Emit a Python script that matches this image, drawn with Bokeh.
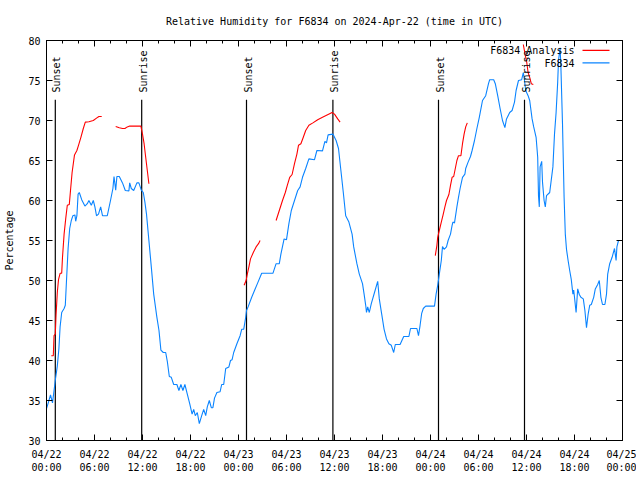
import math
from bokeh.plotting import figure
from bokeh.models import (Label, BoxAnnotation, LinearAxis, FixedTicker, Range1d)
from bokeh.embed import file_html
from bokeh.resources import INLINE

FONT = "DejaVu Sans Mono"

TITLE = "Relative Humidity for F6834 on 2024-Apr-22 (time in UTC)"

# time axis: hours since 2024-04-22 00:00 UTC
tick_hours = [0, 6, 12, 18, 24, 30, 36, 42, 48, 54, 60, 66, 72]
tick_labels = ["04/22\n00:00", "04/22\n06:00", "04/22\n12:00", "04/22\n18:00",
               "04/23\n00:00", "04/23\n06:00", "04/23\n12:00", "04/23\n18:00",
               "04/24\n00:00", "04/24\n06:00", "04/24\n12:00", "04/24\n18:00",
               "04/25\n00:00"]
y_ticks = [30, 35, 40, 45, 50, 55, 60, 65, 70, 75, 80]

# observed RH (F6834)
obs_t = [0.0, 0.25, 0.5, 0.75, 0.95, 1.15, 1.35, 1.55, 1.7, 1.9, 2.2, 2.35, 2.5, 2.7, 2.9,
         3.1, 3.3, 3.55, 3.65, 3.8, 3.95, 4.1, 4.4, 4.8, 5.1, 5.3, 5.6, 5.85, 6.05, 6.25,
         6.5, 6.77, 7.0, 7.6, 8.0, 8.3, 8.44, 8.65, 8.8, 9.1, 9.5, 9.85, 10.3, 10.4, 10.6,
         10.9, 11.3, 11.55, 11.85, 12.1, 12.3, 12.5, 12.8, 13.1, 13.4, 13.8, 14.06, 14.3,
         14.6, 14.9, 15.1, 15.35, 15.6, 15.9, 16.3, 16.55, 16.8, 17.05, 17.3, 17.6, 17.9,
         18.2, 18.4, 18.6, 18.85, 19.1, 19.4, 19.65, 19.9, 20.1, 20.35, 20.6, 20.8, 21.0,
         21.3, 21.7, 21.9, 22.15, 22.4, 22.8, 23.0, 23.2, 23.4, 23.8, 24.2, 24.4, 24.65,
         24.9, 25.0, 25.2, 25.65, 26.0, 26.4, 26.9, 27.5, 28.3, 28.7, 29.1, 29.3, 29.7,
         30.0, 30.3, 30.6, 31.0, 31.4, 31.7, 32.0, 32.4, 32.8, 33.5, 33.8, 34.5, 34.8,
         35.0, 35.2, 35.8, 36.2, 36.5, 36.8, 37.1, 37.4, 37.8, 38.2, 38.4, 38.8, 39.1,
         39.5, 39.7, 39.9, 40.0, 40.15, 40.35, 40.6, 41.0, 41.4, 41.6, 41.9, 42.2, 42.5,
         42.8, 43.1, 43.4, 43.6, 44.2, 44.65, 45.3, 45.5, 46.3, 46.5, 46.7, 46.9, 47.1,
         47.4, 48.5, 48.7, 48.9, 49.1, 49.35, 49.5, 49.7, 50.0, 50.2, 50.5, 50.7, 50.8,
         51.0, 51.3, 51.5, 51.7, 52.0, 52.3, 52.4, 52.7, 53.0, 53.2, 53.5, 53.8, 54.1,
         54.5, 54.9, 55.25, 55.4, 55.9, 56.1, 56.4, 56.7, 57.0, 57.3, 57.5, 57.9, 58.2,
         58.5, 58.7, 59.0, 59.4, 59.6, 59.7, 59.9, 60.2, 60.4, 60.7, 60.9, 61.2, 61.4,
         61.5, 61.6, 61.7, 61.9, 62.0, 62.2, 62.35, 62.5, 62.9, 63.3, 63.5, 63.7, 63.9,
         64.0, 64.2, 64.3, 64.5, 64.7, 64.85, 65.0, 65.2, 65.4, 65.6, 65.8, 65.9, 66.0,
         66.2, 66.4, 66.6, 66.8, 67.1, 67.3, 67.5, 67.7, 67.9, 68.1, 68.4, 68.6, 68.9,
         69.1, 69.3, 69.5, 69.8, 70.0, 70.15, 70.4, 70.7, 71.0, 71.2, 71.3, 71.5, 72.0]
obs_v = [34.0, 34.8, 35.7, 34.7, 36.3, 37.9, 39.3, 41.5, 44.2, 46.0, 46.5, 46.9, 50.0, 54.0, 56.5,
         57.5, 58.1, 58.2, 57.4, 58.1, 60.8, 61.0, 60.1, 59.3, 59.6, 60.0, 59.4, 60.0, 59.2, 58.1,
         58.3, 59.2, 58.1, 58.1, 60.0, 61.5, 63.0, 61.3, 63.0, 63.0, 62.2, 61.25, 61.2, 62.2, 61.5,
         61.25, 62.2, 62.2, 61.3, 61.0, 59.8, 58.3, 55.0, 51.7, 48.3, 45.4, 43.75, 41.3,
         41.0, 41.0, 39.9, 38.0, 37.9, 37.0, 37.0, 36.25, 37.0, 36.25, 37.0, 35.8, 34.6,
         33.3, 33.9, 33.1, 33.5, 32.1, 33.1, 33.9, 33.1, 34.2, 35.0, 34.1, 34.1, 35.3,
         36.0, 36.1, 37.0, 37.0, 39.0, 39.2, 40.0, 40.1, 41.0, 42.1, 43.1, 43.9, 43.9,
         45.4, 46.25, 46.7, 47.9, 48.75, 49.7, 50.9, 50.9, 50.9, 52.1, 52.1, 53.3, 55.2,
         55.1, 57.1, 58.75, 60.0, 61.25, 61.7, 62.9, 64.0, 65.2, 65.1, 66.25, 66.2, 67.4,
         67.2, 68.2, 68.3, 67.5, 66.5, 63.75, 61.0, 58.1, 57.3, 55.8, 54.2, 52.1, 50.8,
         49.6, 48.3, 46.9, 46.0, 46.7, 46.0, 47.1, 48.5, 49.9, 47.7, 45.8, 43.9, 42.7,
         42.1, 41.9, 41.0, 42.0, 42.0, 43.0, 43.0, 44.0, 44.0, 43.1, 44.4, 45.9, 46.5,
         46.8, 46.8, 48.3, 49.4, 50.8, 52.5, 54.25, 53.9, 54.2, 55.0, 55.8, 56.9, 57.3,
         57.2, 59.2, 60.4, 61.5, 62.9, 63.3, 64.0, 64.8, 65.5, 66.25, 67.5, 69.0, 70.4,
         72.5, 73.1, 74.6, 75.1, 75.1, 74.6, 73.1, 71.5, 70.0, 69.1, 70.2, 71.0, 71.25,
         72.3, 73.75, 75.0, 75.1, 76.0, 75.4, 73.75, 73.1, 72.5, 70.2, 69.2, 67.9, 65.4,
         60.6, 59.2, 64.2, 64.9, 62.3, 60.0, 59.2, 60.6, 61.0, 64.2, 68.3, 71.0, 74.8,
         77.5, 79.1, 76.7, 69.6, 60.4, 55.8, 53.9, 52.5, 51.25, 50.1, 48.3, 48.8, 47.9,
         46.0, 48.95, 48.25, 47.9, 47.7, 46.25, 44.1, 45.75, 46.9, 47.0, 47.9, 48.95, 49.5,
         50.0, 47.9, 47.0, 47.0, 48.3, 50.8, 52.1, 52.9, 54.0, 52.5, 54.2, 55.0, 55.0]

NAN = float("nan")
# analysis RH (gaps = NaN)
ana_t = [0.6, 0.85, 0.94, 1.1, 1.2, 1.35, 1.5, 1.7, 1.9, 2.0, 2.2, 2.4, 2.6, 2.85, 3.0, 3.2,
         3.5, 3.8, 4.0, 4.3, 4.6, 4.85, 5.3, 5.85, 6.25, 6.55, 6.9, 7.8,
         8.65, 9.1, 9.5, 9.8, 10.1, 10.4, 11.1, 11.8, 12.0, 12.2, 12.4, 12.6, 12.8, 18.0,
         24.7, 24.95, 25.1, 25.3, 25.5, 25.85, 26.2, 26.5, 26.7, 27.7,
         28.7, 29.1, 29.5, 29.85, 30.1, 30.4, 30.7, 31.0, 31.3, 31.5, 31.8, 32.1, 32.4,
         32.8, 33.3, 33.9, 34.5, 35.2, 35.7, 36.0, 36.4, 36.7, 42.0,
         48.6, 48.8, 48.9, 49.1, 49.35, 49.55, 49.8, 50.0, 50.3, 50.5, 50.7, 50.9, 51.1,
         51.3, 51.5, 51.8, 52.0, 52.2, 52.4, 52.6, 56.0,
         59.6, 59.85, 60.0, 60.2, 60.4, 60.6, 60.85]
ana_v = [40.6, 40.6, 43.1, 43.3, 45.8, 48.5, 50.1, 50.9, 50.9, 52.9, 55.8, 57.7, 59.4, 59.5, 61.25, 63.5,
         65.7, 66.25, 66.9, 67.9, 69.0, 69.8, 69.85, 70.0, 70.3, 70.5, 70.5, NAN,
         69.25, 69.1, 69.0, 69.0, 69.2, 69.3, 69.3, 69.3, 68.3, 67.1, 65.4, 63.75, 62.1, NAN,
         49.4, 50.0, 50.8, 51.7, 52.7, 53.5, 54.2, 54.6, 55.0, NAN,
         57.5, 58.75, 60.0, 61.0, 61.9, 62.9, 63.25, 64.6, 65.8, 66.9, 67.1, 67.9, 68.75,
         69.4, 69.7, 70.1, 70.4, 70.75, 71.0, 70.8, 70.2, 69.8, NAN,
         53.1, 54.4, 55.4, 56.25, 57.3, 58.1, 59.2, 60.0, 60.75, 61.9, 62.9, 63.0, 64.0,
         65.0, 65.6, 65.6, 67.1, 68.3, 69.2, 69.7, NAN,
         79.5, 78.1, 77.5, 76.0, 75.4, 74.6, 74.5]

sun_t = [1.1, 11.9, 25.0, 35.8, 49.0, 59.75]
sun_name = ["Sunset", "Sunrise", "Sunset", "Sunrise", "Sunset", "Sunrise"]

RED = "#ff0000"
BLUE = "#0a84ff"

p = figure(width=636, height=476, output_backend="svg", toolbar_location=None,
           x_range=Range1d(0, 72), y_range=Range1d(30, 80),
           min_border_left=46, min_border_right=14, min_border_top=40, min_border_bottom=36)
p.background_fill_color = "white"
p.border_fill_color = "white"
p.outline_line_color = "black"
p.grid.visible = False

p.title.text = TITLE
p.title.align = "center"
p.title.text_font = FONT
p.title.text_font_size = "10px"
p.title.text_font_style = "normal"
p.title.text_color = "black"
p.title.standoff = 27


def style_axis(ax):
    ax.axis_line_color = "black"
    ax.major_tick_line_color = "black"
    ax.minor_tick_line_color = "black"
    ax.major_tick_out = 0
    ax.minor_tick_out = 0
    ax.major_label_text_font = FONT
    ax.major_label_text_font_size = "10px"
    ax.major_label_text_color = "black"
    ax.axis_label_text_font = FONT
    ax.axis_label_text_font_size = "10px"
    ax.axis_label_text_font_style = "normal"
    ax.axis_label_text_color = "black"


xt = FixedTicker(ticks=tick_hours, minor_ticks=list(range(0, 73, 2)))
yt = FixedTicker(ticks=y_ticks, minor_ticks=[])

xa = p.xaxis[0]
xa.ticker = xt
style_axis(xa)
xa.major_tick_in = 6
xa.minor_tick_in = 3
xa.major_label_overrides = {h: lab for h, lab in zip(tick_hours, tick_labels)}
xa.major_label_standoff = 8

ya = p.yaxis[0]
ya.ticker = yt
style_axis(ya)
ya.major_tick_in = 6
ya.minor_tick_in = 0
ya.major_label_standoff = 6
ya.axis_label = "Percentage"
ya.axis_label_standoff = 10

# mirrored tick marks (no labels) on top and right
top = LinearAxis(ticker=FixedTicker(ticks=tick_hours, minor_ticks=list(range(0, 73, 2))),
                 major_label_overrides={h: "" for h in tick_hours})
style_axis(top)
top.major_tick_in = 6
top.minor_tick_in = 3
top.major_label_standoff = 0
top.major_label_text_font_size = "0px"
p.add_layout(top, "above")

right = LinearAxis(ticker=FixedTicker(ticks=y_ticks, minor_ticks=[]),
                   major_label_overrides={v: "" for v in y_ticks})
style_axis(right)
right.major_tick_in = 6
right.minor_tick_in = 0
right.major_label_standoff = 0
right.major_label_text_font_size = "0px"
p.add_layout(right, "right")

# sunrise / sunset markers
p.segment(x0=sun_t, y0=[30] * len(sun_t), x1=sun_t, y1=[72.6] * len(sun_t),
          line_color="black", line_width=1.2)
for t, name in zip(sun_t, sun_name):
    p.add_layout(Label(x=t, y=73.5, text=name, angle=math.pi / 2,
                       text_align="left", text_baseline="middle", x_offset=1.5,
                       text_font=FONT, text_font_size="10px", text_color="black"))

p.line(ana_t, ana_v, line_color=RED, line_width=1.1)
p.line(obs_t, obs_v, line_color=BLUE, line_width=1.1)

# legend (gnuplot style: text then sample line), in frame screen units
p.add_layout(Label(x=528, y=390, x_units="screen", y_units="screen", text="F6834 Analysis",
                   text_align="right", text_baseline="middle",
                   text_font=FONT, text_font_size="10px", text_color="black"))
p.add_layout(Label(x=528, y=377.5, x_units="screen", y_units="screen", text="F6834",
                   text_align="right", text_baseline="middle",
                   text_font=FONT, text_font_size="10px", text_color="black"))
p.add_layout(BoxAnnotation(left=536, right=563, bottom=389.5, top=390.7,
                           left_units="screen", right_units="screen",
                           bottom_units="screen", top_units="screen",
                           fill_color=RED, fill_alpha=1, line_color=None))
p.add_layout(BoxAnnotation(left=536, right=563, bottom=377.0, top=378.2,
                           left_units="screen", right_units="screen",
                           bottom_units="screen", top_units="screen",
                           fill_color=BLUE, fill_alpha=1, line_color=None))

open("out.html", "w").write(file_html(p, INLINE))
